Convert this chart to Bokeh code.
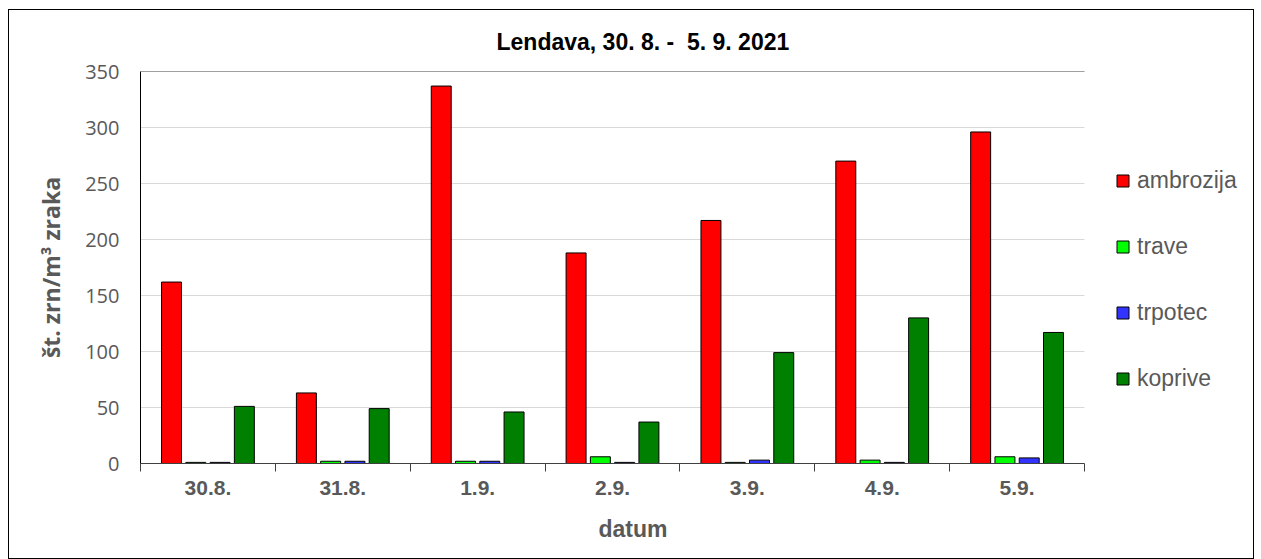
import numpy as np
from bokeh.plotting import figure
from bokeh.models import (ColumnDataSource, FixedTicker, Legend, LegendItem, Range1d,
                          Grid, Title)
from bokeh.transform import dodge
from bokeh.embed import file_html
from bokeh.resources import INLINE

dates = ["30.8.", "31.8.", "1.9.", "2.9.", "3.9.", "4.9.", "5.9."]
ambrozija = [162, 63, 337, 188, 217, 270, 296]
trave = [1, 2, 2, 6, 1, 3, 6]
trpotec = [1, 2, 2, 1, 3, 1, 5]
koprive = [51, 49, 46, 37, 99, 130, 117]
y_ticks = [0, 50, 100, 150, 200, 250, 300, 350]

series = [("ambrozija", ambrozija, "#FF0000"),
          ("trave", trave, "#00FF00"),
          ("trpotec", trpotec, "#3333FF"),
          ("koprive", koprive, "#008000")]

n = len(dates)
xc = np.arange(n) + 0.5
src = ColumnDataSource(dict(x=xc, ambrozija=ambrozija, trave=trave,
                            trpotec=trpotec, koprive=koprive))

W, H = 1246, 550
left_b, right_b, top_b, bottom_b = 131, 6, 59, 97
plot_px = 944.0  # pixel width of the 7 categories
frame_w = W - left_b - right_b
x_end = n * frame_w / plot_px
y_max = y_ticks[-1]

p = figure(width=W, height=H, output_backend="svg", toolbar_location=None,
           x_range=Range1d(0, x_end), y_range=Range1d(0, y_max),
           min_border_left=left_b, min_border_right=right_b, min_border_top=top_b,
           min_border_bottom=bottom_b)
p.styles = {"border": "1px solid #000000", "margin-left": "8px", "margin-top": "9px"}

p.title.text = "Lendava, 30. 8. -\u00a0 5. 9. 2021"
p.title.align = "left"
p.title.offset = 356
p.title.standoff = 33
p.title.text_font = "Liberation Sans"
p.title.text_font_size = "23px"
p.title.text_font_style = "bold"
p.title.text_color = "#000000"

# horizontal gridlines limited to the plot box
grid_y = y_ticks[1:-1]
p.segment(x0=[0] * len(grid_y), x1=[n] * len(grid_y), y0=grid_y, y1=grid_y,
          line_color="#D9D9D9", line_width=1, level="underlay")
# top edge of plot box
p.segment(x0=[0], x1=[n], y0=[y_max], y1=[y_max], line_color="#404040", line_width=1)
# right edge of plot box
p.add_layout(Grid(dimension=0, ticker=FixedTicker(ticks=[n]),
                  grid_line_color="#404040"))

offsets = [-0.27, -0.09, 0.09, 0.27]
items = []
for (name, vals, col), off in zip(series, offsets):
    r = p.vbar(x=dodge("x", off, range=p.x_range), top=name, width=0.148,
               source=src, fill_color=col, line_color="#000000", line_width=1)
    items.append(LegendItem(label=name, renderers=[r]))

legend = Legend(items=items, location=(975, 71), padding=0, margin=0,
                spacing=39, glyph_width=15, glyph_height=15, label_height=24,
                label_standoff=7, border_line_color=None,
                background_fill_alpha=0, label_text_font="Liberation Sans",
                label_text_font_size="23px", label_text_color="#595959")
p.add_layout(legend)

p.outline_line_color = None
p.xgrid.visible = False
p.ygrid.visible = False

p.yaxis.ticker = FixedTicker(ticks=y_ticks)
p.yaxis.major_tick_out = 0
p.yaxis.major_tick_in = 0
p.yaxis.minor_tick_line_color = None
p.yaxis.axis_line_color = "#000000"
p.yaxis.major_label_standoff = 21
p.yaxis.major_label_text_font = "Open Sans"
p.yaxis.major_label_text_font_size = "20px"
p.yaxis.major_label_text_color = "#595959"
p.yaxis.axis_label = "št. zrn/m³ zraka"
p.yaxis.axis_label_standoff = 15
p.yaxis.axis_label_text_font = "Open Sans"
p.yaxis.axis_label_text_font_size = "23px"
p.yaxis.axis_label_text_font_style = "bold"
p.yaxis.axis_label_text_color = "#595959"

p.xaxis.bounds = (0, n)
p.xaxis.ticker = FixedTicker(ticks=list(xc), minor_ticks=list(range(n + 1)))
p.xaxis.major_label_overrides = {float(v): d for v, d in zip(xc, dates)}
p.xaxis.major_tick_out = 0
p.xaxis.major_tick_in = 0
p.xaxis.minor_tick_out = 8
p.xaxis.minor_tick_in = 0
p.xaxis.minor_tick_line_color = "#404040"
p.xaxis.axis_line_color = "#404040"
p.xaxis.major_label_standoff = 9
p.xaxis.major_label_text_font = "Liberation Sans"
p.xaxis.major_label_text_font_size = "21px"
p.xaxis.major_label_text_font_style = "bold"
p.xaxis.major_label_text_color = "#595959"

xlabel = Title(text="datum", align="left", offset=458, standoff=33,
               text_font="Liberation Sans", text_font_size="23px",
               text_font_style="bold", text_color="#595959")
p.add_layout(xlabel, "below")

open("out.html", "w").write(file_html(p, INLINE))
